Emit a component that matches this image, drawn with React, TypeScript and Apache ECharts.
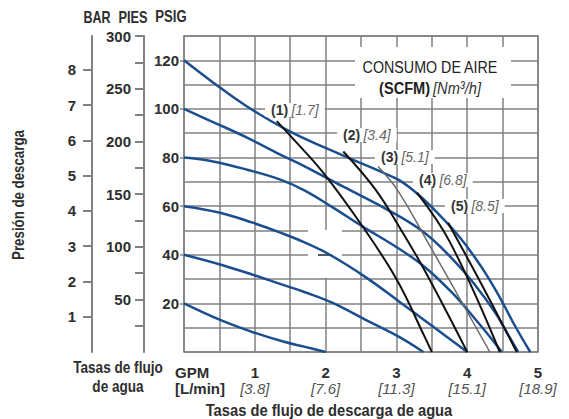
import React, { useEffect, useRef } from 'react';
import * as echarts from 'echarts';

// ---- tick labels ----
const GPM_TICKS = [1, 2, 3, 4, 5];
const LMIN_TICKS = ['3.8', '7.6', '11.3', '15.1', '18.9'];
const PSIG_TICKS = [20, 40, 60, 80, 100, 120];
const PIES_LABELS = [50, 100, 150, 200, 250, 300];
const PIES_TICKS = [25, 50, 75, 100, 125, 150, 175, 200, 225, 250, 275, 300];
const BAR_TICKS = [1, 2, 3, 4, 5, 6, 7, 8];

// ---- pump curves (GPM, PSIG) at inlet air pressure ----
const curve120 = [[0, 120], [0.41, 110.9], [0.89, 101], [1.5, 90.7], [2.25, 80.8], [2.81, 73.8], [3.05, 70.5], [3.3, 65], [3.57, 57.5], [3.9, 47], [4.2, 35], [4.45, 23], [4.67, 11], [4.89, 0]];
const curve100 = [[0, 100], [0.41, 94.6], [0.89, 88.2], [1.36, 81.2], [1.71, 76.3], [2.25, 68], [2.87, 58.6], [3.4, 49], [3.8, 38], [4.1, 28], [4.4, 16], [4.6, 6], [4.72, 0]];
const curve80 = [[0, 80], [0.41, 78.4], [0.89, 75], [1.36, 70.9], [1.7, 66.5], [2.1, 59.5], [2.53, 51.5], [3.01, 43], [3.4, 35], [3.8, 24], [4.1, 14], [4.3, 7], [4.49, 0]];
const curve60 = [[0, 60], [0.51, 57.3], [0.97, 53.2], [1.36, 49.1], [1.71, 45], [2.06, 40], [2.58, 30.5], [3.05, 20.5], [3.4, 13], [3.7, 6.5], [4.0, 0]];
const curve40 = [[0, 40], [0.51, 36], [0.97, 31.8], [1.4, 27.6], [1.71, 24.6], [2.1, 20.2], [2.58, 13], [3.05, 6], [3.38, 0]];
const curve20 = [[0, 20], [0.51, 13.2], [0.97, 8.2], [1.4, 4.3], [1.71, 2.1], [2.0, 0]];
const PUMP_CURVES = [curve120, curve100, curve80, curve60, curve40, curve20];

// ---- air consumption lines ----
const air1 = [[1.31, 95], [1.5, 89], [1.96, 74], [2.53, 51.3], [3.01, 29.5], [3.4, 6.2], [3.5, 0]];
const air2 = [[2.25, 82.5], [2.7, 67], [3.05, 51], [3.4, 33.5], [4.0, 0]];
const air3 = [[2.74, 76.3], [3.01, 66.8], [3.4, 47.4], [4.32, 0]];
const air4 = [[3.29, 65.6], [3.76, 45], [4.46, 0]];
const air5 = [[3.73, 53.2], [4.2, 28], [4.7, 0]];
const AIR_LINES = [air1, air2, air3, air4, air5];
const AIR_SCFM = ['(1)', '(2)', '(3)', '(4)', '(5)'];
const AIR_NM3H = ['[1.7]', '[3.4]', '[5.1]', '[6.8]', '[8.5]'];

const BLUE = '#1b4e8e';
const GRID = '#808080';
const TXT = '#2e2e2e';
const SANS = "'Liberation Sans', Arial, sans-serif";

const LABEL_POS = [[265, 110], [337, 135], [375, 157], [413, 180], [445, 206]];

function ctext(x: number, y: number, text: string, size: number, sx: number, extra: any = {}, rot = 0) {
  return {
    type: 'text', z: 10, x, y, scaleX: sx, rotation: rot,
    style: { text, fontFamily: SANS, fontWeight: 'bold', fontSize: size, fill: TXT, align: 'center', verticalAlign: 'middle', ...extra },
  };
}

export default function App() {
  const ref = useRef<HTMLDivElement>(null);
  useEffect(() => {
    if (!ref.current) return;
    const chart = echarts.init(ref.current, undefined, { renderer: 'svg' });
    const numLabel = { fontFamily: SANS, fontWeight: 'bold', fontSize: 15, color: TXT };
    const series: any[] = [];
    PUMP_CURVES.forEach((c, i) => {
      series.push({
        type: 'line', name: 'air' + i, data: c, symbol: 'none', smooth: 0.4,
        lineStyle: { color: BLUE, width: 2.5 }, z: 3, silent: true,
      });
    });
    AIR_LINES.forEach((c, i) => {
      series.push({
        type: 'line', name: 'cons' + i, data: c, symbol: 'none', smooth: 0.4,
        lineStyle: i === 2 ? { color: '#6a6a6a', width: 1.5 } : { color: '#111', width: 2 }, z: 4, silent: true,
      });
    });

    const graphics: any[] = [
      { type: 'rect', z: 1, shape: { x: 308, y: 230, width: 34, height: 48 }, style: { fill: '#fff' } },
      { type: 'line', z: 1, shape: { x1: 318, y1: 255, x2: 332, y2: 255 }, style: { stroke: '#222', lineWidth: 1.5 } },
      { type: 'rect', z: 5, shape: { x: 355, y: 47, width: 156, height: 51 }, style: { fill: '#fff' } },
      ctext(430, 67, 'CONSUMO DE AIRE', 17, 0.84, { fontWeight: 'normal', fill: '#222' }),
      {
        type: 'text', z: 10, x: 430, y: 88, scaleX: 0.86,
        style: {
          text: '{b|(SCFM)} {i|[Nm³/h]}', align: 'center', verticalAlign: 'middle',
          rich: {
            b: { fontFamily: SANS, fontWeight: 'bold', fontSize: 17, fill: '#222' },
            i: { fontFamily: SANS, fontStyle: 'italic', fontSize: 17, fill: '#333' },
          },
        },
      },
      ctext(97, 17, 'BAR', 16, 0.78),
      ctext(133, 17, 'PIES', 16, 0.8),
      ctext(171, 17, 'PSIG', 16, 0.82),
      ctext(19, 195, 'Presión de descarga', 16, 0.83, {}, Math.PI / 2),
      ctext(118, 368, 'Tasas de flujo', 16, 0.85),
      ctext(118, 387, 'de agua', 16, 0.85),
      ctext(175, 372, 'GPM', 15, 1, { align: 'left' }),
      ctext(175, 388, '[L/min]', 15, 1, { align: 'left' }),
      ctext(329, 410, 'Tasas de flujo de descarga de agua', 16, 0.92),
    ];
    AIR_SCFM.forEach((s, i) => {
      graphics.push({
        type: 'text', z: 10, x: LABEL_POS[i][0], y: LABEL_POS[i][1],
        style: {
          text: `{b|${s}} {i|${AIR_NM3H[i]}}`, align: 'left', verticalAlign: 'middle',
          backgroundColor: '#fff', padding: [0, 6, 0, 6],
          rich: {
            b: { fontFamily: SANS, fontWeight: 'bold', fontSize: 14, fill: '#333' },
            i: { fontFamily: SANS, fontStyle: 'italic', fontSize: 14, fill: '#666' },
          },
        },
      });
    });

    chart.setOption({
      animation: false,
      backgroundColor: '#fff',
      grid: { left: 184, top: 36, width: 354, height: 316, show: true, borderColor: GRID, borderWidth: 1.5, backgroundColor: 'transparent' },
      xAxis: {
        type: 'value', min: 0, max: 5, interval: 0.5,
        axisLine: { show: false }, axisTick: { show: false },
        splitLine: { show: true, lineStyle: { color: GRID, width: 1.5 } },
        axisLabel: {
          customValues: GPM_TICKS, margin: 12,
          formatter: (v: number) => {
            const i = GPM_TICKS.indexOf(Math.round(v));
            return i < 0 ? '' : `{a|${GPM_TICKS[i]}}\n{b|[${LMIN_TICKS[i]}]}`;
          },
          rich: {
            a: { fontFamily: SANS, fontWeight: 'bold', fontSize: 15, color: TXT, lineHeight: 16 },
            b: { fontFamily: SANS, fontStyle: 'italic', fontSize: 15, color: '#555', lineHeight: 16 },
          },
        },
      },
      yAxis: [
        {
          type: 'value', min: 0, max: 130, interval: 10, position: 'left',
          axisLine: { show: false }, axisTick: { show: false }, axisLabel: { show: false },
          splitLine: { show: true, lineStyle: { color: GRID, width: 1.5 } },
        },
        {
          type: 'value', min: 0, max: 130, position: 'left', offset: 0,
          axisLine: { show: false }, splitLine: { show: false },
          axisTick: { show: true, length: 4, customValues: PSIG_TICKS, lineStyle: { color: GRID, width: 1.5 } },
          axisLabel: { customValues: PSIG_TICKS, margin: 5, ...numLabel },
        },
        {
          type: 'value', min: 0, max: 300, position: 'left', offset: 40,
          axisLine: { show: true, lineStyle: { color: GRID, width: 2 } }, splitLine: { show: false },
          axisTick: { show: true, length: 9, customValues: PIES_TICKS, lineStyle: { color: GRID, width: 2 } },
          axisLabel: { customValues: PIES_LABELS, margin: 13, ...numLabel },
        },
        {
          type: 'value', min: 0, max: 8.963, position: 'left', offset: 92,
          axisLine: { show: true, lineStyle: { color: GRID, width: 2 } }, splitLine: { show: false },
          axisTick: { show: true, length: 9, customValues: BAR_TICKS, lineStyle: { color: GRID, width: 2 } },
          axisLabel: { customValues: BAR_TICKS, margin: 16, ...numLabel },
        },
      ],
      series,
      graphic: graphics,
    });
    return () => chart.dispose();
  }, []);
  return <div ref={ref} style={{ position: 'absolute', left: 0, top: 0, width: 569, height: 419 }} />;
}
